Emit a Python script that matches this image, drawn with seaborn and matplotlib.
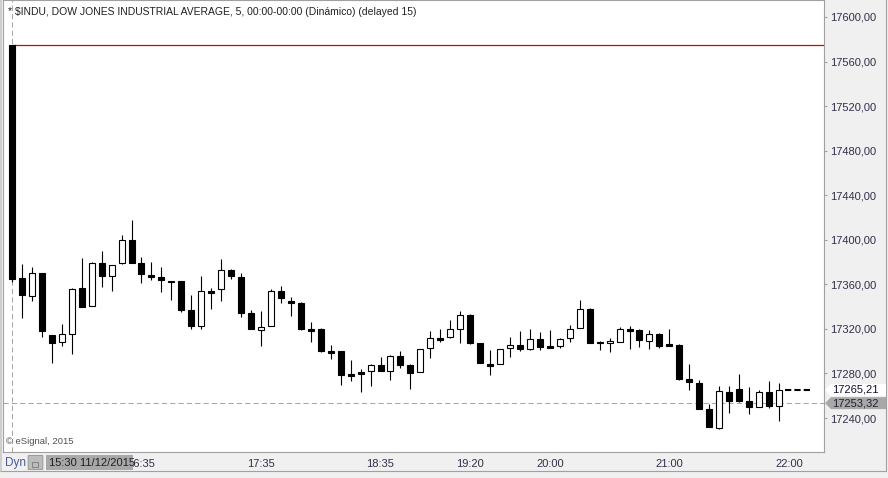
import numpy as np
import pandas as pd
import matplotlib
matplotlib.use("Agg")
import matplotlib.pyplot as plt
import matplotlib.transforms as mtransforms
from matplotlib.patches import Polygon, Rectangle, FancyBboxPatch
from matplotlib.lines import Line2D
import seaborn as sns

# ---------------- data ----------------
title = "* $INDU, DOW JONES INDUSTRIAL AVERAGE, 5, 00:00-00:00 (Dinámico) (delayed 15)"
session_start = "15:30 11/12/2015"
copyright_text = "© eSignal, 2015"

opens = [17575.0, 17365.4, 17349.3, 17370.5, 17314.5, 17308.0, 17315.2, 17356.5, 17340.8, 17379.2,
         17367.8, 17378.9, 17399.5, 17379.2, 17368.4, 17366.6, 17363.0, 17363.0, 17337.0, 17322.9,
         17354.3, 17355.6, 17372.9, 17366.6, 17334.0, 17319.3, 17322.9, 17354.0, 17345.0, 17343.3,
         17320.0, 17320.0, 17300.5, 17300.5, 17279.5, 17281.3, 17281.9, 17287.3, 17282.0, 17295.4,
         17287.6, 17281.6, 17302.6, 17311.8, 17312.5, 17319.7, 17332.5, 17307.4, 17288.5, 17288.2,
         17302.6, 17305.6, 17302.2, 17310.7, 17304.7, 17304.9, 17311.6, 17320.5, 17337.9, 17308.5,
         17307.0, 17308.5, 17320.0, 17319.0, 17309.4, 17315.4, 17306.5, 17305.9, 17275.0, 17271.4,
         17248.1, 17231.3, 17263.4, 17265.8, 17255.3, 17250.2, 17263.4, 17251.1]

highs = [17575.0, 17378.3, 17375.6, 17370.5, 17314.5, 17324.4, 17356.5, 17383.7, 17380.0, 17390.0,
         17377.1, 17404.3, 17417.8, 17384.6, 17380.0, 17375.6, 17363.0, 17363.0, 17350.4, 17367.5,
         17356.5, 17382.8, 17373.5, 17370.5, 17337.0, 17336.1, 17355.8, 17358.5, 17348.6, 17344.0,
         17326.2, 17321.0, 17305.6, 17300.5, 17292.1, 17284.0, 17288.5, 17294.8, 17296.6, 17300.2,
         17288.5, 17301.7, 17318.1, 17320.0, 17328.0, 17336.3, 17333.6, 17307.4, 17301.1, 17301.7,
         17312.7, 17318.1, 17320.0, 17317.2, 17319.0, 17312.1, 17323.5, 17346.0, 17338.5, 17309.4,
         17311.6, 17321.4, 17322.6, 17320.0, 17319.0, 17316.0, 17320.0, 17306.5, 17288.5, 17273.9,
         17252.6, 17268.7, 17268.7, 17279.5, 17267.9, 17265.2, 17273.2, 17271.7]

lows = [17362.0, 17329.5, 17345.3, 17313.0, 17289.1, 17305.0, 17297.7, 17339.4, 17340.3, 17357.9,
        17354.3, 17378.0, 17378.9, 17361.5, 17363.9, 17353.4, 17346.0, 17335.5, 17320.2, 17320.2,
        17338.1, 17345.3, 17364.8, 17331.0, 17319.7, 17304.7, 17322.9, 17343.5, 17331.6, 17319.0,
        17308.3, 17299.0, 17293.3, 17269.6, 17273.5, 17263.6, 17269.0, 17282.5, 17274.1, 17285.2,
        17265.8, 17281.0, 17294.2, 17308.5, 17311.6, 17307.0, 17306.2, 17289.7, 17279.0, 17288.2,
        17295.0, 17300.4, 17301.1, 17301.1, 17303.2, 17303.2, 17308.5, 17320.5, 17307.0, 17301.1,
        17299.5, 17308.5, 17302.0, 17304.0, 17302.0, 17303.2, 17304.5, 17274.0, 17265.2, 17247.8,
        17232.2, 17230.4, 17244.8, 17254.7, 17243.6, 17250.2, 17249.3, 17237.6]

closes = [17365.0, 17350.7, 17369.9, 17318.4, 17307.6, 17315.2, 17355.6, 17340.0, 17379.2, 17367.8,
          17377.1, 17399.5, 17378.9, 17369.6, 17366.6, 17364.2, 17361.8, 17337.0, 17322.6, 17354.0,
          17352.5, 17372.9, 17367.8, 17334.6, 17319.7, 17321.7, 17354.0, 17348.0, 17343.3, 17319.7,
          17318.1, 17300.2, 17298.7, 17278.6, 17277.7, 17279.5, 17287.3, 17282.5, 17295.7, 17287.9,
          17280.7, 17301.7, 17311.6, 17310.0, 17319.7, 17332.5, 17307.6, 17289.7, 17287.0, 17301.7,
          17305.3, 17302.2, 17310.7, 17304.0, 17303.2, 17310.7, 17319.7, 17337.6, 17307.6, 17307.0,
          17309.1, 17319.7, 17318.4, 17310.0, 17315.4, 17304.9, 17304.7, 17275.0, 17272.6, 17248.4,
          17232.2, 17264.3, 17255.6, 17255.6, 17250.2, 17263.1, 17250.8, 17265.2]

time_tick_bars = [13, 25, 37, 46, 54, 66, 78]
time_tick_labels = ["16:35", "17:35", "18:35", "19:20", "20:00", "21:00", "22:00"]
price_ticks = [17240, 17280, 17320, 17360, 17400, 17440, 17480, 17520, 17560, 17600]

last_price = 17265.21
cursor_price = 17253.32
ref_price = 17575.0

# ---------------- style ----------------
sns.set_style("white")
plt.rcParams["font.family"] = ["Liberation Sans", "DejaVu Sans"]

W, H = 888, 478
BG = "#f0f0f0"
FRAME = "#a0a0a0"
TXT = "#30304a"

def fx(px):
    return px / W

def fy(py):
    return 1 - py / H

fig = plt.figure(figsize=(W / 100, H / 100), dpi=100, facecolor=BG)
ax = fig.add_axes([fx(3), fy(452), (824 - 3) / W, 452 / H])
ax.set_facecolor("white")

o = np.array(opens)
h = np.array(highs)
l = np.array(lows)
c = np.array(closes)
bars = np.arange(len(o))

df = pd.DataFrame({
    "bar": bars,
    "body": np.maximum(np.abs(c - o), 1.0),
    "base": np.minimum(o, c),
    "up": c >= o,
})
up = df[df["up"]]
dn = df[~df["up"]]

# wicks
ax.vlines(bars, l, h, color="black", linewidth=0.8, zorder=3)

# bodies
sns.barplot(data=up, x="bar", y="body", native_scale=True, errorbar=None,
            width=0.6, color="white", saturation=1, edgecolor="black",
            linewidth=0.8, bottom=up["base"].to_numpy(), zorder=4, ax=ax)
sns.barplot(data=dn, x="bar", y="body", native_scale=True, errorbar=None,
            width=0.6, color="black", saturation=1, edgecolor="black",
            linewidth=0.8, bottom=dn["base"].to_numpy(), zorder=4, ax=ax)

# reference lines
ax.hlines(ref_price, 0, 200, color="#d80000", linewidth=0.9, zorder=2)
ax.axhline(cursor_price, color="#a8a8a8", linewidth=0.75, linestyle=(0, (5, 3)), zorder=1)
ax.axvline(0, color="#a8a8a8", linewidth=0.75, linestyle=(0, (5, 3)), zorder=1)
n = len(o)
ax.hlines(last_price, n - 1 + 0.6, n + 2.3, color="black", linewidth=1.5,
          linestyle=(0, (3, 1.5)), zorder=5)

# scales
px_per_bar = 9.96
xmin = -(12 - 3) / px_per_bar
ax.set_xlim(xmin, xmin + 821 / px_per_bar)
upp = 360 / 401.0
ax.set_ylim(17240 - 34 * upp, 17600 + 17 * upp)

ax.set_xlabel("")
ax.set_ylabel("")
ax.yaxis.tick_right()
ax.set_yticks(price_ticks)
ax.set_yticklabels([f"{v:.2f}".replace(".", ",") for v in price_ticks])
ax.set_xticks(time_tick_bars)
ax.set_xticklabels(time_tick_labels)
ax.tick_params(axis="y", which="both", direction="out", length=2.5, width=0.8,
               color=FRAME, pad=1.8, labelsize=8, labelcolor=TXT,
               left=False, right=True, labelleft=False, labelright=True)
ax.tick_params(axis="x", which="both", direction="out", length=2.5, width=0.8,
               color=FRAME, pad=2.5, labelsize=8, labelcolor=TXT)
for s in ax.spines.values():
    s.set_color(FRAME)
    s.set_linewidth(0.8)
ax.grid(False)

# ---------------- decorations ----------------
fig.text(fx(8), fy(12), title, fontsize=7.5, color="#202020", va="center", ha="left")
fig.text(fx(6), fy(442), copyright_text, fontsize=6.8, color="#505050", va="center", ha="left")

# outer frame lines
fig.add_artist(Line2D([fx(886), fx(886)], [fy(0), fy(471)], color=FRAME, linewidth=0.8))
fig.add_artist(Line2D([fx(0), fx(886)], [fy(471), fy(471)], color=FRAME, linewidth=0.8))
fig.add_artist(Line2D([fx(1), fx(1)], [fy(0), fy(471)], color="#c8c8c8", linewidth=1.2))

# bottom-left controls
fig.text(fx(5), fy(463), "Dyn", fontsize=8.5, color="#4a5a9a", va="center", ha="left", zorder=6)
fig.add_artist(FancyBboxPatch((fx(29), fy(469)), fx(13), 13 / H,
                              boxstyle="round,pad=0.001", facecolor="#bcbcbc",
                              edgecolor="#909090", linewidth=0.6, zorder=5))
fig.add_artist(Rectangle((fx(32), fy(467)), fx(6), 5 / H, facecolor="none",
                         edgecolor="#7a7a7a", linewidth=0.6, zorder=6))
fig.add_artist(Rectangle((fx(46), fy(470)), fx(87), 15 / H, facecolor="#a8a8a8",
                         edgecolor="none", zorder=5))
fig.text(fx(49), fy(463), session_start, fontsize=8, color="#202020", va="center",
         ha="left", zorder=6)

# price tags on the right axis
blend = mtransforms.blended_transform_factory(fig.transFigure, ax.transData)
half = 6 * upp

def tag(price, face, txtcolor):
    pts = [(fx(825), price), (fx(831), price + half), (fx(886), price + half),
           (fx(886), price - half), (fx(831), price - half)]
    fig.add_artist(Polygon(pts, closed=True, facecolor=face, edgecolor="none",
                           transform=blend, zorder=5))
    fig.text(fx(832), price, f"{price:.2f}".replace(".", ","), transform=blend,
             fontsize=8, color=txtcolor, va="center", ha="left", zorder=6)

tag(last_price, "white", "#101030")
tag(cursor_price, "#a8a8a8", "#202030")

fig.savefig("out.png", dpi=100, facecolor=BG)
